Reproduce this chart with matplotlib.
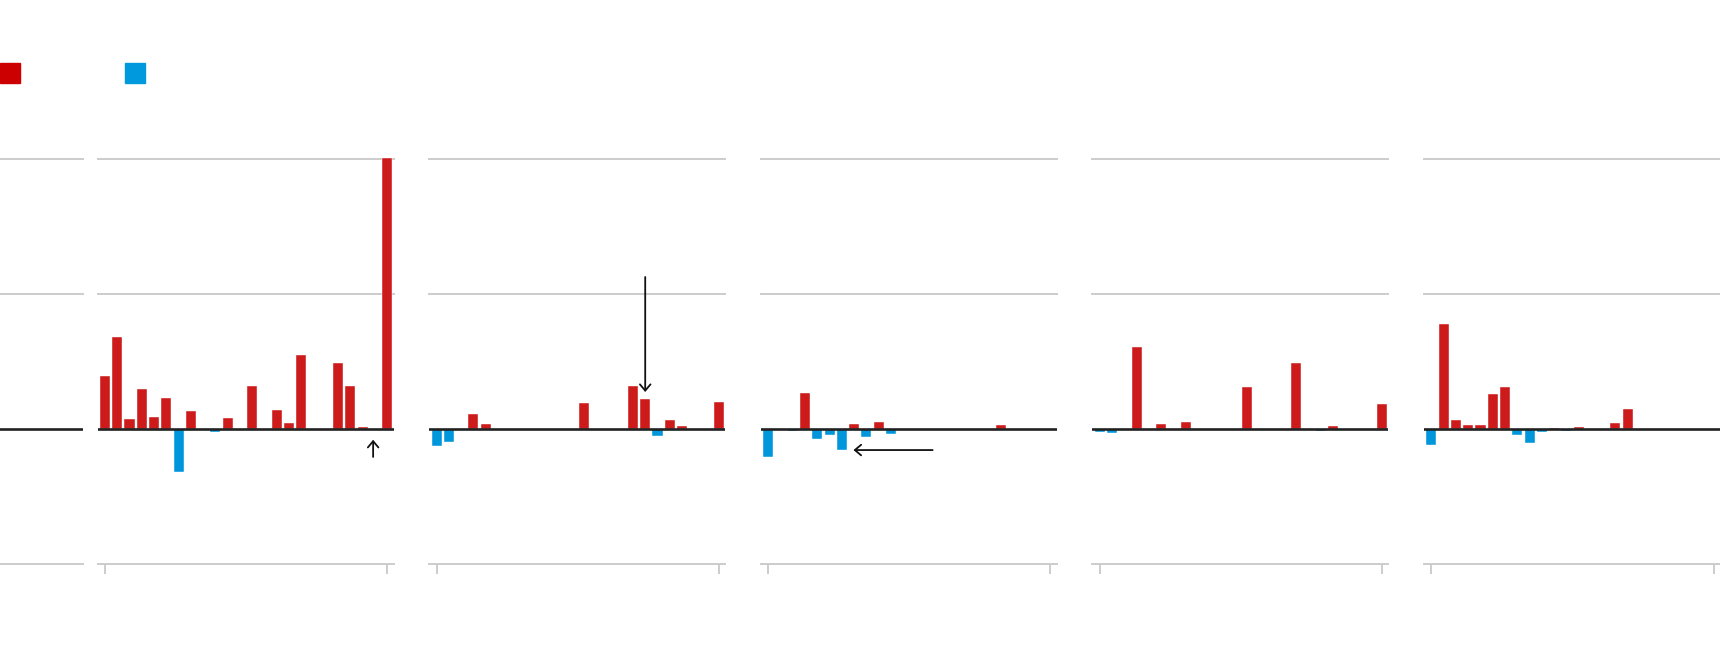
import matplotlib
matplotlib.use("Agg")
import matplotlib.pyplot as plt
from matplotlib.patches import Rectangle
import numpy as np

# data: 24 values per small multiple, gridlines every 10 units
slots = np.arange(24)
panel1 = [3.9, 6.8, 0.74, 3.0, 0.9, 2.3, -3.2, 1.3, 0, -0.2, 0.8, 0,
          3.2, 0, 1.4, 0.45, 5.5, 0, 0, 4.9, 3.2, 0.15, 0, 20.07]
panel2 = [-1.28, -0.96, 0, 1.1, 0.35, 0, 0, 0, 0, 0, 0, 0,
          1.9, 0, 0, 0, 3.2, 2.2, -0.5, 0.64, 0.22, 0, 0, 2.0]
panel3 = [-2.05, 0, -0.17, 2.67, -0.74, -0.47, -1.58, 0.35, -0.62, 0.52, -0.4, 0,
          0, 0, 0, 0, 0, 0, 0, 0.27, 0, 0, 0, 0]
panel4 = [-0.2, -0.27, 0, 6.07, 0, 0.4, 0, 0.54, 0, 0, 0, 0,
          3.14, 0, 0, 0, 4.86, 0, -0.15, 0.25, 0, 0, 0, 1.85]
panel5 = [-1.16, 7.8, 0.64, 0.27, 0.3, 2.6, 3.1, -0.47, -1.06, -0.25, 0.05, -0.15,
          0.15, 0, -0.1, 0.44, 1.46, 0, 0, 0, 0, 0, 0, 0]
panels = [panel1, panel2, panel3, panel4, panel5]
gridvals = [-10, 10, 20]

# arrows (panel index, from xy, to xy)
arrows = [(0, (21.85, -2.07), (21.85, -0.8)),
          (1, (17, 11.26), (17, 2.74)),
          (2, (13.4, -1.56), (6.95, -1.56))]

RED = "#cd1b1b"
BLUE = "#0096db"
GRID = "#cccccc"

W, H = 1720, 662
fig = plt.figure(figsize=(W / 100, H / 100), dpi=100)

y_top_px, y_bot_px = 150, 564
ylim = (-10, (429 - y_top_px) / 13.5)


def px_axes(left, right):
    return fig.add_axes([left / W, 1 - y_bot_px / H, (right - left) / W,
                         (y_bot_px - y_top_px) / H])


def style(ax):
    for s in ax.spines.values():
        s.set_visible(False)
    ax.set_ylim(*ylim)
    ax.set_yticks([])
    for g in gridvals:
        ax.axhline(g, color=GRID, lw=1.4, zorder=0, clip_on=False)
    ax.axhline(0, color="#222222", lw=1.9, zorder=3)


# left panel: only the gridlines
ax0 = px_axes(0, 83)
style(ax0)
ax0.set_xlim(0, 1)
ax0.set_xticks([])

axes = []
for i, vals in enumerate(panels):
    left = 97.5 + i * 331.6
    ax = px_axes(left, left + 296)
    style(ax)
    vals = np.array(vals)
    colors = [RED if v >= 0 else BLUE for v in vals]
    ax.bar(slots, vals, width=0.82, color=colors, zorder=2, clip_on=False,
           edgecolor="white", linewidth=0.3)
    ax.set_xlim(-0.61, 23.51)
    ax.set_xticks([slots[0], slots[-1]])
    ax.set_xticklabels(["", ""])
    ax.tick_params(axis="x", direction="out", length=7.5, width=1.4, color=GRID)
    axes.append(ax)

for idx, start, end in arrows:
    axes[idx].annotate("", xy=end, xytext=start,
                       arrowprops=dict(arrowstyle="->,head_length=0.45,head_width=0.38",
                                       color="#111111", lw=1.3,
                                       mutation_scale=10, shrinkA=0, shrinkB=0),
                       zorder=5)

# legend squares
fig.add_artist(Rectangle((0, 1 - 83.3 / H), 20 / W, 20 / H,
                         transform=fig.transFigure, color="#cc0000"))
fig.add_artist(Rectangle((125 / W, 1 - 83.3 / H), 20 / W, 20 / H,
                         transform=fig.transFigure, color="#0099dd"))

fig.savefig("out.png", dpi=100)
